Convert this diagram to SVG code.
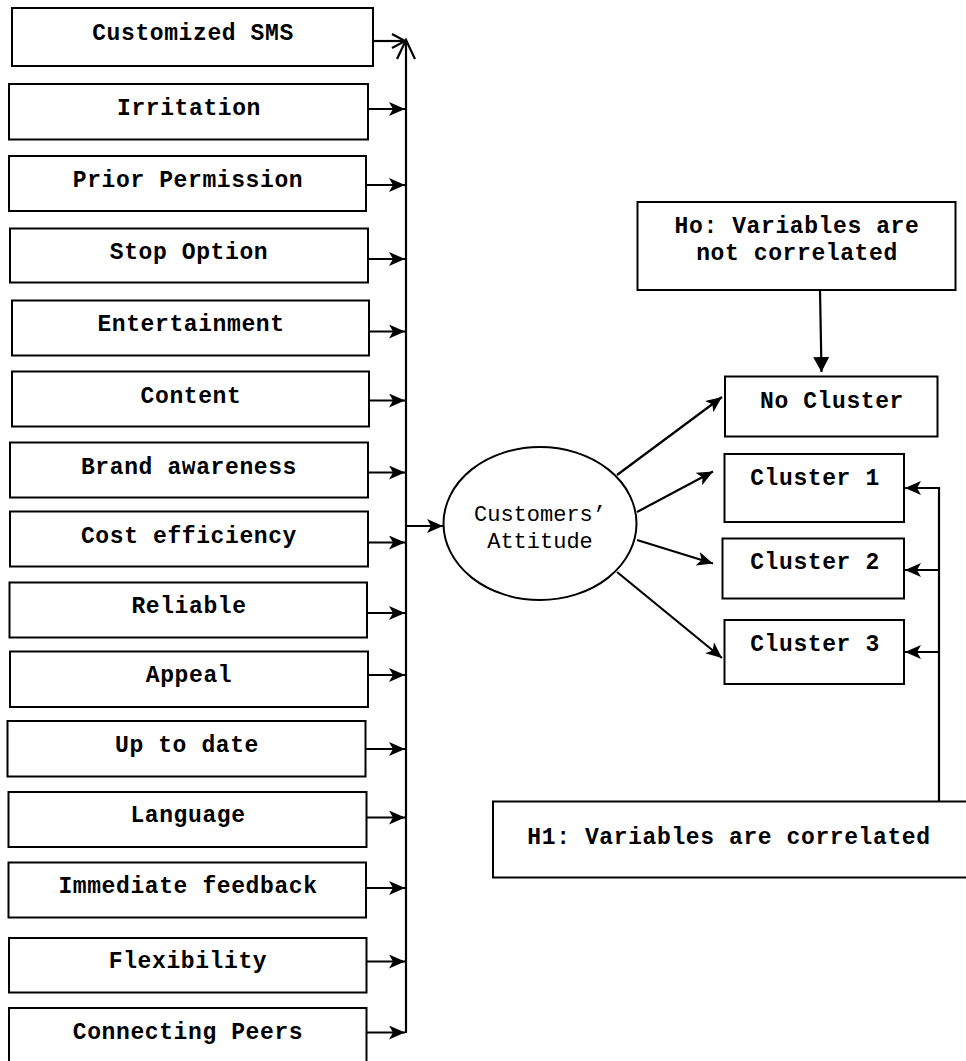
<svg xmlns="http://www.w3.org/2000/svg" width="966" height="1061" viewBox="0 0 966 1061">
<style>
.box{fill:#fff;stroke:#000;stroke-width:2}
.t{font-family:"Liberation Mono","DejaVu Sans Mono",monospace;font-size:23px;font-weight:bold;letter-spacing:0.6px;text-anchor:middle;fill:#000}
.tr{font-family:"Liberation Mono","DejaVu Sans Mono",monospace;font-size:22px;letter-spacing:0px;text-anchor:middle;fill:#000}
.c{stroke:#000;stroke-width:2.2;fill:none}
</style>
<defs>
<marker id="cl" markerUnits="userSpaceOnUse" markerWidth="18" markerHeight="16" refX="16" refY="7" orient="auto"><path d="M0,0 L16,7 L0,14 L4,7 Z" fill="#000"/></marker>
<marker id="op" markerUnits="userSpaceOnUse" markerWidth="24" markerHeight="22" refX="20" refY="10" orient="auto"><path d="M1,1 L20,10 L1,19" fill="none" stroke="#000" stroke-width="2.2"/></marker>
<marker id="opS" markerUnits="userSpaceOnUse" markerWidth="18" markerHeight="18" refX="14" refY="8" orient="auto"><path d="M1,1 L14,8 L1,15" fill="none" stroke="#000" stroke-width="2.2"/></marker>
<marker id="blk" markerUnits="userSpaceOnUse" markerWidth="18" markerHeight="18" refX="15" refY="8" orient="auto"><path d="M0,0 L15,8 L0,16 Z" fill="#000"/></marker>
</defs>
<rect width="966" height="1061" fill="#fff"/>

<g id="n1"><rect class="box" x="12" y="8" width="361" height="58"/><text class="t" x="193" y="40">Customized SMS</text></g>
<g id="n2"><rect class="box" x="9" y="84" width="359" height="55.5"/><text class="t" x="189" y="115">Irritation</text></g>
<g id="n3"><rect class="box" x="9" y="156" width="357" height="55"/><text class="t" x="188" y="187">Prior Permission</text></g>
<g id="n4"><rect class="box" x="10" y="228.5" width="358" height="54"/><text class="t" x="189" y="259">Stop Option</text></g>
<g id="n5"><rect class="box" x="12" y="300.5" width="357" height="55"/><text class="t" x="191" y="330.5">Entertainment</text></g>
<g id="n6"><rect class="box" x="12" y="371.5" width="357" height="55"/><text class="t" x="191" y="402.5">Content</text></g>
<g id="n7"><rect class="box" x="10" y="442.5" width="358" height="55"/><text class="t" x="189" y="473.5">Brand awareness</text></g>
<g id="n8"><rect class="box" x="10" y="511.5" width="358" height="55"/><text class="t" x="189" y="543">Cost efficiency</text></g>
<g id="n9"><rect class="box" x="9.5" y="582.5" width="357.5" height="55"/><text class="t" x="189" y="613">Reliable</text></g>
<g id="n10"><rect class="box" x="10" y="651.5" width="358" height="55.5"/><text class="t" x="189" y="682">Appeal</text></g>
<g id="n11"><rect class="box" x="7.5" y="721" width="358" height="55.5"/><text class="t" x="187" y="752">Up to date</text></g>
<g id="n12"><rect class="box" x="8.5" y="792" width="358" height="55"/><text class="t" x="188" y="822">Language</text></g>
<g id="n13"><rect class="box" x="8.5" y="862.5" width="357.5" height="55"/><text class="t" x="188" y="893">Immediate feedback</text></g>
<g id="n14"><rect class="box" x="9" y="938" width="357.5" height="54.5"/><text class="t" x="188" y="968">Flexibility</text></g>
<g id="n15"><rect class="box" x="9" y="1008" width="357.5" height="70"/><text class="t" x="188" y="1039">Connecting Peers</text></g>

<g id="attitude"><ellipse class="box" cx="540" cy="523.5" rx="96.5" ry="76.5"/><text class="tr" x="540" y="520.5">Customers’</text><text class="tr" x="540" y="548">Attitude</text></g>

<g id="ho"><rect class="box" x="637.5" y="202" width="318" height="88"/><text class="t" x="797" y="233">Ho: Variables are</text><text class="t" x="797" y="260">not correlated</text></g>
<g id="nocluster"><rect class="box" x="725" y="376.5" width="212.5" height="60"/><text class="t" x="832" y="408">No Cluster</text></g>
<g id="cluster1"><rect class="box" x="724.5" y="454" width="179.5" height="68"/><text class="t" x="815" y="485">Cluster 1</text></g>
<g id="cluster2"><rect class="box" x="722.5" y="538.5" width="181.5" height="60"/><text class="t" x="815" y="569">Cluster 2</text></g>
<g id="cluster3"><rect class="box" x="724.5" y="620" width="179.5" height="64"/><text class="t" x="815" y="650.5">Cluster 3</text></g>
<g id="h1"><rect class="box" x="493" y="801.5" width="490" height="76"/><text class="t" x="729" y="844">H1: Variables are correlated</text></g>

<g id="connectors">
<line class="c" x1="406" y1="1033" x2="406" y2="40" marker-end="url(#op)"/>
<line class="c" x1="373" y1="41" x2="405" y2="41" marker-end="url(#opS)"/>
<line class="c" x1="368" y1="109" x2="405" y2="109" marker-end="url(#cl)"/>
<line class="c" x1="366" y1="185" x2="405" y2="185" marker-end="url(#cl)"/>
<line class="c" x1="368" y1="259" x2="405" y2="259" marker-end="url(#cl)"/>
<line class="c" x1="369" y1="331.5" x2="405" y2="331.5" marker-end="url(#cl)"/>
<line class="c" x1="369" y1="400.5" x2="405" y2="400.5" marker-end="url(#cl)"/>
<line class="c" x1="368" y1="472.5" x2="405" y2="472.5" marker-end="url(#cl)"/>
<line class="c" x1="368" y1="542.5" x2="405" y2="542.5" marker-end="url(#cl)"/>
<line class="c" x1="367" y1="613" x2="405" y2="613" marker-end="url(#cl)"/>
<line class="c" x1="368" y1="675" x2="405" y2="675" marker-end="url(#cl)"/>
<line class="c" x1="366" y1="749" x2="405" y2="749" marker-end="url(#cl)"/>
<line class="c" x1="366" y1="817.5" x2="405" y2="817.5" marker-end="url(#cl)"/>
<line class="c" x1="366" y1="888" x2="405" y2="888" marker-end="url(#cl)"/>
<line class="c" x1="366.5" y1="961.5" x2="405" y2="961.5" marker-end="url(#cl)"/>
<line class="c" x1="366.5" y1="1032.5" x2="405" y2="1032.5" marker-end="url(#cl)"/>
<line class="c" x1="406" y1="526" x2="443" y2="526" marker-end="url(#cl)"/>
<line class="c" x1="617" y1="475" x2="722" y2="397" marker-end="url(#cl)"/>
<line class="c" x1="637" y1="512" x2="713" y2="471.5" marker-end="url(#cl)"/>
<line class="c" x1="637" y1="540" x2="713" y2="563.5" marker-end="url(#cl)"/>
<line class="c" x1="617" y1="572" x2="722" y2="658" marker-end="url(#cl)"/>
<line class="c" x1="820" y1="290" x2="821.5" y2="372" marker-end="url(#blk)"/>
<polyline class="c" points="939,801.5 939,488 905,488" marker-end="url(#cl)"/>
<line class="c" x1="939" y1="570" x2="905" y2="570" marker-end="url(#cl)"/>
<line class="c" x1="939" y1="652" x2="905" y2="652" marker-end="url(#cl)"/>
</g>
</svg>
